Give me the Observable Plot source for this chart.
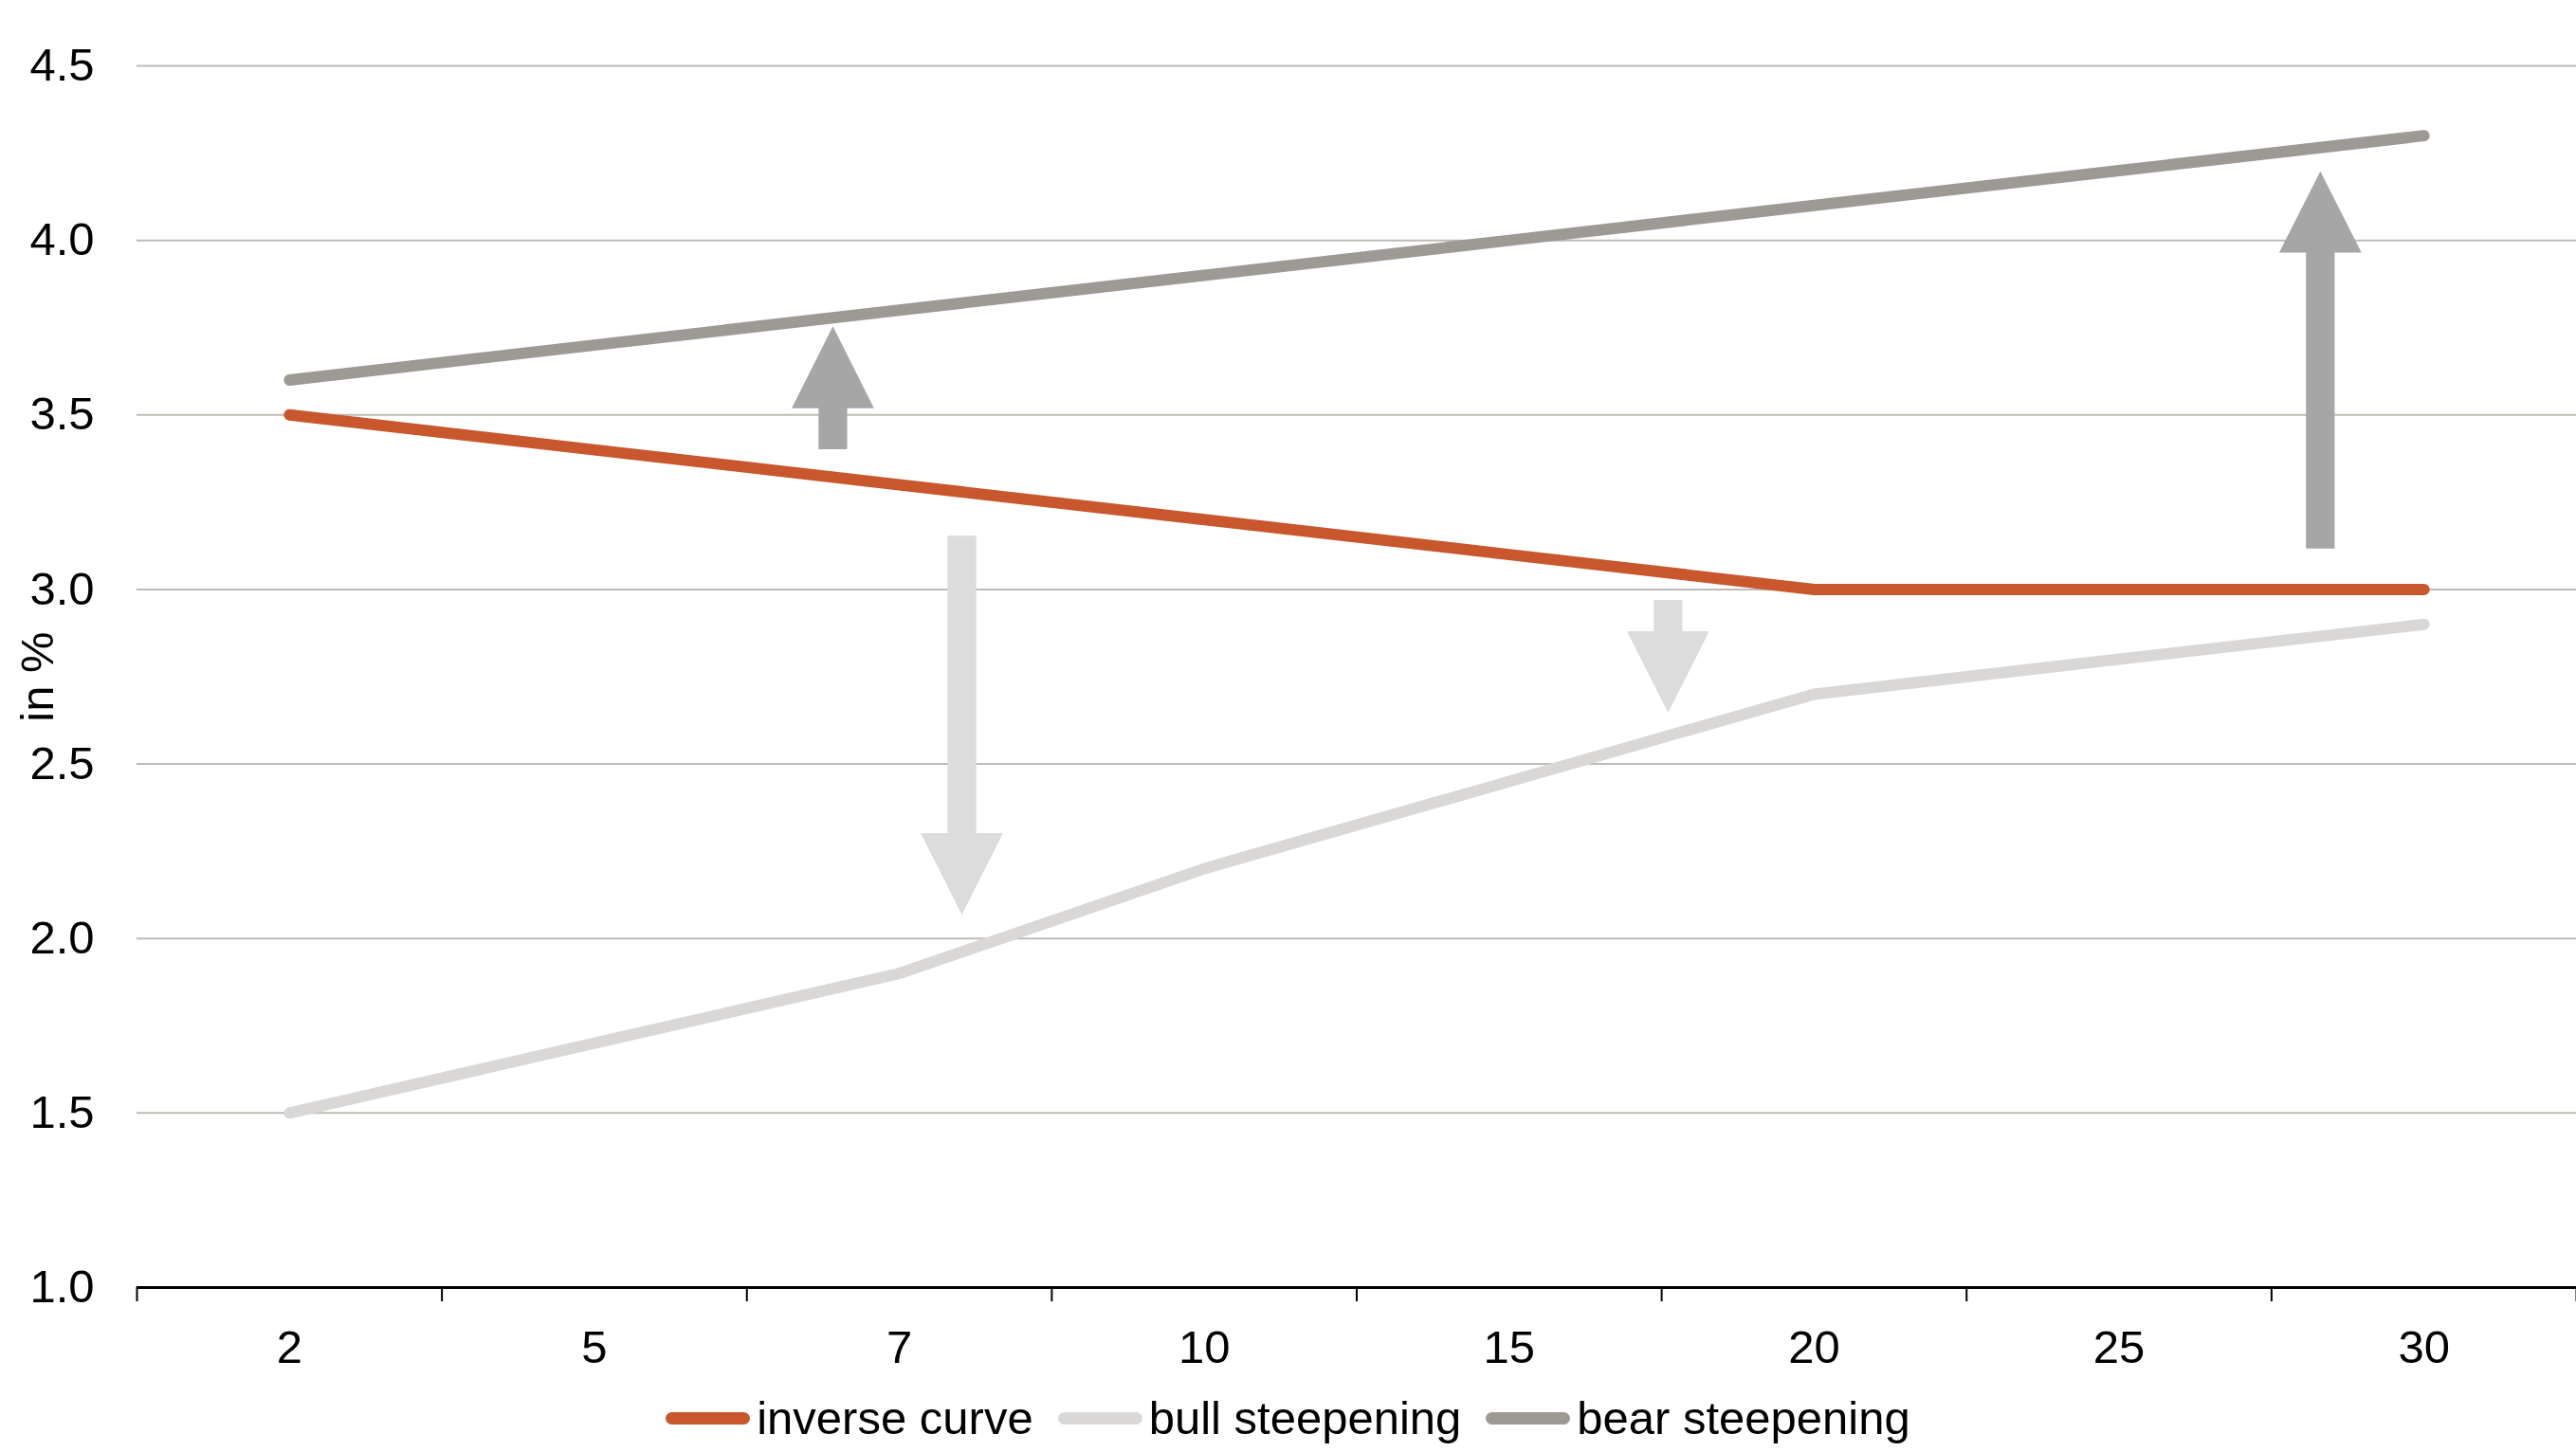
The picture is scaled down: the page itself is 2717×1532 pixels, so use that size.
<!DOCTYPE html>
<html>
<head>
<meta charset="utf-8">
<script src="https://cdn.jsdelivr.net/npm/d3@7"></script>
<script src="https://cdn.jsdelivr.net/npm/@observablehq/plot@0.6"></script>
<style>
  html, body { margin: 0; padding: 0; background: #fff; }
  body { width: 2717px; height: 1532px; overflow: hidden; font-family: "Liberation Sans", Arial, sans-serif; }
  #legend { display: flex; justify-content: center; align-items: center; height: 72px; font-size: 49px; color: #000; }
  .item { display: flex; align-items: center; margin: 0 13px; }
  .sw { width: 89px; height: 13px; border-radius: 7px; margin-right: 7px; }
</style>
</head>
<body>
<div id="chart"></div>
<div id="legend"></div>
<script>
// Maturities (years) - categorical axis
const maturities = ["2", "5", "7", "10", "15", "20", "25", "30"];
// Yields in %
const inverseCurve = [3.5, 3.4, 3.3, 3.2, 3.1, 3.0, 3.0, 3.0];
const bullSteepening = [1.5, 1.7, 1.9, 2.2, 2.45, 2.7, 2.8, 2.9];
const bearSteepening = [3.6, 3.7, 3.8, 3.9, 4.0, 4.1, 4.2, 4.3];
const seriesNames = ["inverse curve", "bull steepening", "bear steepening"];
const yTicks = [1.0, 1.5, 2.0, 2.5, 3.0, 3.5, 4.0, 4.5];
// Annotation arrows: position on category index axis, tail value, head-base value, tip value, kind
const arrowPos = [1.782, 2.205, 4.521, 6.660];
const arrowTail = [3.402, 3.154, 2.970, 3.117];
const arrowHeadBase = [3.519, 2.302, 2.880, 3.965];
const arrowTip = [3.754, 2.068, 2.647, 4.198];
const arrowKind = ["bear", "bull", "bull", "bear"];

const colors = {"inverse curve": "#C8572D", "bull steepening": "#D9D8D6", "bear steepening": "#9D9995"};
const arrowColors = {bear: "#A6A6A6", bull: "#DCDCDC"};

const seriesValues = [inverseCurve, bullSteepening, bearSteepening];
const rows = [];
seriesNames.forEach((name, s) => maturities.forEach((m, i) => rows.push({series: name, i, value: seriesValues[s][i]})));

const shaftHalf = 0.047, headHalf = 0.135;
const arrowMarks = arrowPos.map((x, k) => {
  const pts = [
    [x - shaftHalf, arrowTail[k]],
    [x + shaftHalf, arrowTail[k]],
    [x + shaftHalf, arrowHeadBase[k]],
    [x + headHalf, arrowHeadBase[k]],
    [x, arrowTip[k]],
    [x - headHalf, arrowHeadBase[k]],
    [x - shaftHalf, arrowHeadBase[k]]
  ].map(([px, py]) => ({px, py}));
  return Plot.line(pts, {x: "px", y: "py", fill: arrowColors[arrowKind[k]], stroke: "none", curve: "linear-closed"});
});

const idx = maturities.map((_, i) => i);
const bounds = d3.range(-0.5, maturities.length, 1);

const plot = Plot.plot({
  width: 2717,
  height: 1460,
  marginLeft: 144,
  marginRight: 0,
  marginTop: 69,
  marginBottom: 102,
  style: {fontFamily: "'Liberation Sans', Arial, sans-serif", fontSize: "49px", color: "#000", background: "#fff"},
  x: {type: "linear", domain: [-0.5, maturities.length - 0.5]},
  y: {domain: [1, 4.5]},
  marks: [
    Plot.gridY(yTicks.filter(d => d > 1), {stroke: "#BFBBB6", strokeOpacity: 1, strokeWidth: 2}),
    Plot.axisY(yTicks, {tickSize: 0, tickPadding: 45, tickFormat: d3.format(".1f"), label: null, fontSize: 49}),
    Plot.axisX(idx, {tickSize: 0, tickPadding: 45, tickFormat: i => maturities[i], label: null, fontSize: 49}),
    Plot.axisX(bounds, {tickSize: 15, tickFormat: () => "", label: null, stroke: "#000", strokeWidth: 2}),
    Plot.ruleY([1], {stroke: "#000", strokeWidth: 3}),
    ...arrowMarks,
    Plot.line(rows, {x: "i", y: "value", z: "series", stroke: d => colors[d.series], strokeWidth: 12, strokeLinecap: "round", strokeLinejoin: "round"}),
    Plot.text(["in %"], {frameAnchor: "left", dx: -104, rotate: -90, textAnchor: "middle", fontSize: 49, fill: "#000"})
  ],
  color: {type: "identity"}
});
document.getElementById("chart").appendChild(plot);

const legend = document.getElementById("legend");
seriesNames.forEach(name => {
  const it = document.createElement("div");
  it.className = "item";
  const sw = document.createElement("span");
  sw.className = "sw";
  sw.style.background = colors[name];
  const tx = document.createElement("span");
  tx.textContent = name;
  it.appendChild(sw); it.appendChild(tx);
  legend.appendChild(it);
});
</script>
</body>
</html>
